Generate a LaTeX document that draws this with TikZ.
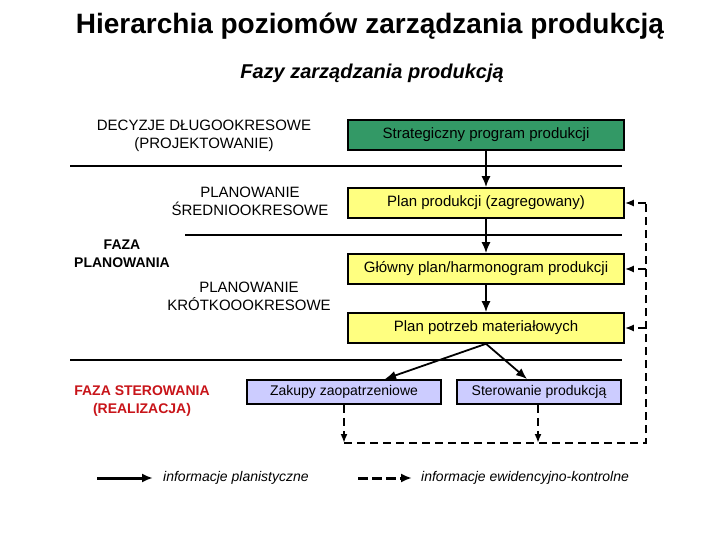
\documentclass[tikz,border=0pt]{standalone}
\usepackage{fontspec}
\setmainfont{Liberation Sans}
\usetikzlibrary{arrows.meta,calc}
\definecolor{sgreen}{RGB}{51,153,102}
\definecolor{syellow}{RGB}{255,255,128}
\definecolor{slav}{RGB}{204,204,255}
\definecolor{sred}{RGB}{200,20,25}
\newcommand\fsz{\fontsize{14}{17.5}\selectfont}
\newcommand\fbig{\fontsize{15}{18}\selectfont}
\begin{document}
\begin{tikzpicture}[x=1pt,y=-1pt,
  box/.style={draw, line width=1.6pt, minimum width=276pt, minimum height=30pt, inner sep=0pt, font=\fbig},
  sbox/.style={draw, line width=1.6pt, minimum height=24pt, inner sep=0pt, font=\fsz, fill=slav},
  lbl/.style={align=center, font=\fbig, inner sep=0pt},
  blbl/.style={align=center, font=\fsz\bfseries, inner sep=0pt},
  hline/.style={line width=2.2pt},
  sarrow/.style={line width=1.8pt, -{Latex[length=11pt,width=9pt]}},
  dline/.style={line width=1.8pt, dash pattern=on 8pt off 5pt},
  darrow/.style={line width=1.8pt, dash pattern=on 8pt off 5pt, -{Latex[length=9pt,width=7pt]}}]
\useasboundingbox (0,0) rectangle (720,540);
% title
\node[font=\fontsize{28}{33}\selectfont\bfseries, inner sep=0pt] (title) at (370,26) {Hierarchia poziomów zarządzania produkcją};
\node[font=\fontsize{20}{24}\selectfont\bfseries\itshape, inner sep=0pt] (sub) at (372,73) {Fazy zarządzania produkcją};
% boxes
\node[box, fill=sgreen] (b1) at (486,135) {Strategiczny program produkcji};
\node[box, fill=syellow] (b2) at (486,203) {Plan produkcji (zagregowany)};
\node[box, fill=syellow] (b3) at (486,269) {Główny plan/harmonogram produkcji};
\node[box, fill=syellow] (b4) at (486,328) {Plan potrzeb materiałowych};
\node[sbox, minimum width=194pt] (zak) at (344,392) {Zakupy zaopatrzeniowe};
\node[sbox, minimum width=164pt] (ster) at (539,392) {Sterowanie produkcją};
% separators
\draw[hline] (70,166) -- (622,166);
\draw[hline] (185,235) -- (622,235);
\draw[hline] (70,360) -- (622,360);
% left labels
\node[lbl] (l1) at (204,136) {DECYZJE DŁUGOOKRESOWE\\(PROJEKTOWANIE)};
\node[lbl] (l2) at (250,201) {PLANOWANIE\\ŚREDNIOOKRESOWE};
\node[blbl] (l3) at (122,254) {FAZA\\PLANOWANIA};
\node[lbl] (l4) at (249,296) {PLANOWANIE\\KRÓTKOOOKRESOWE};
\node[blbl, text=sred] (l5) at (142,401) {FAZA STEROWANIA\\(REALIZACJA)};
% solid arrows
\draw[sarrow] (b1.south) -- (b2.north);
\draw[sarrow] (b2.south) -- (b3.north);
\draw[sarrow] (b3.south) -- (b4.north);
\coordinate (zt) at (385,379);
\coordinate (st) at (527,379);
\draw[sarrow] (b4.south) -- (zt);
\draw[sarrow] (b4.south) -- (st);
% dashed feedback
\coordinate (zb) at (344,443);
\coordinate (sb) at (538,443);
\coordinate (cr) at (646,443);
\coordinate (ct) at (646,203);
\draw[darrow] (zak.south) -- (zb);
\draw[darrow] (ster.south -| sb) -- (sb);
\draw[dline] (zb) -- (cr) -- (ct);
\draw[darrow] (ct) -- (b2.east);
\draw[darrow] (b3.east -| cr) -- (b3.east);
\draw[darrow] (b4.east -| cr) -- (b4.east);
% legend
\coordinate (la) at (97,478);
\coordinate (lb) at (153,478);
\coordinate (lc) at (358,478);
\coordinate (ld) at (412,478);
\draw[line width=3pt, -{Latex[length=11pt,width=9pt]}] (la) -- (lb);
\draw[line width=3pt, dash pattern=on 10pt off 4pt, -{Latex[length=11pt,width=9pt]}] (lc) -- (ld);
\node[font=\fsz\itshape, anchor=west, inner sep=0pt] (t1) at (163,478) {informacje planistyczne};
\node[font=\fsz\itshape, anchor=west, inner sep=0pt] (t2) at (421,478) {informacje ewidencyjno-kontrolne};
\end{tikzpicture}
\end{document}
